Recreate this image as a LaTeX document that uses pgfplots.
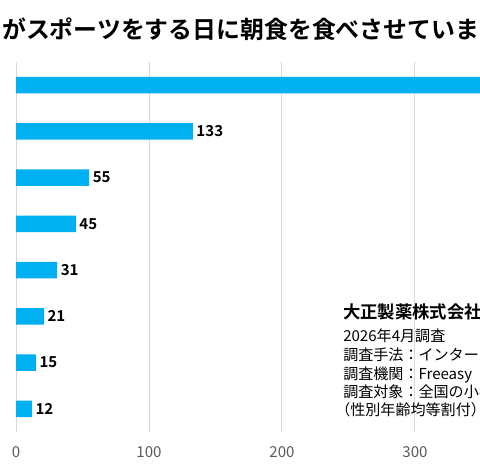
\documentclass[border=0pt]{standalone}
\usepackage{fontspec}
\setmainfont{Noto Sans CJK JP}[BoldFont={Noto Sans CJK JP Bold}]
\usepackage{pgfplots}
\pgfplotsset{compat=1.18}
\definecolor{barblue}{HTML}{00B0F0}
\definecolor{tickgray}{HTML}{595959}
\definecolor{gridgray}{HTML}{D9D9D9}
\begin{document}
\begin{tikzpicture}
\path[use as bounding box] (0pt,0pt) rectangle (360pt,-350.25pt);
\clip (0pt,0pt) rectangle (360pt,-350.25pt);
\node[anchor=base west, inner sep=0pt, font=\fontsize{17.9pt}{21pt}\selectfont\bfseries] at (-52.2pt,-28.9pt) {子どもがスポーツをする日に朝食を食べさせていますか？};
\begin{axis}[
  at={(12pt,-324pt)}, anchor=south west,
  scale only axis, width=448.875pt, height=277.5pt,
  xmin=0, xmax=450, ymin=-0.5, ymax=7.5, y dir=reverse,
  xbar, bar width=12.4pt,
  axis line style={draw=none},
  major tick length=0pt,
  ytick=\empty,
  xtick={0,100,200,300,400},
  xmajorgrids, grid style={gridgray, line width=0.75pt},
  xticklabel style={font=\fontsize{11.3pt}{13pt}\selectfont, text=tickgray, anchor=center, yshift=-15pt},
  /pgf/number format/assume math mode=true,
  nodes near coords,
  nodes near coords style={font=\fontsize{11.3pt}{13pt}\selectfont\bfseries, text=black, anchor=west, xshift=1.5pt, inner sep=1pt},
  clip=false,
]
\addplot[fill=barblue, draw=none] coordinates {(390,0) (133,1) (55,2) (45,3) (31,4) (21,5) (15,6) (12,7)};
\end{axis}
\node[anchor=base west, inner sep=0pt, font=\fontsize{13pt}{15pt}\selectfont\bfseries] at (257.25pt,-239.25pt) {大正製薬株式会社};
\begin{scope}[every node/.style={anchor=base west, inner sep=0pt, font=\fontsize{11.3pt}{13pt}\selectfont}]
\node at (257.25pt,-256.1pt) {2026年4月調査};
\node at (257.25pt,-270.4pt) {調査手法：インターネット調査};
\node at (257.25pt,-284.6pt) {調査機関：Freeasy};
\node at (257.25pt,-298.1pt) {調査対象：全国の小学生の子どもを持つ保護者};
\node at (251.25pt,-311.6pt) {（性別年齢均等割付）};
\end{scope}
\end{tikzpicture}
\end{document}
